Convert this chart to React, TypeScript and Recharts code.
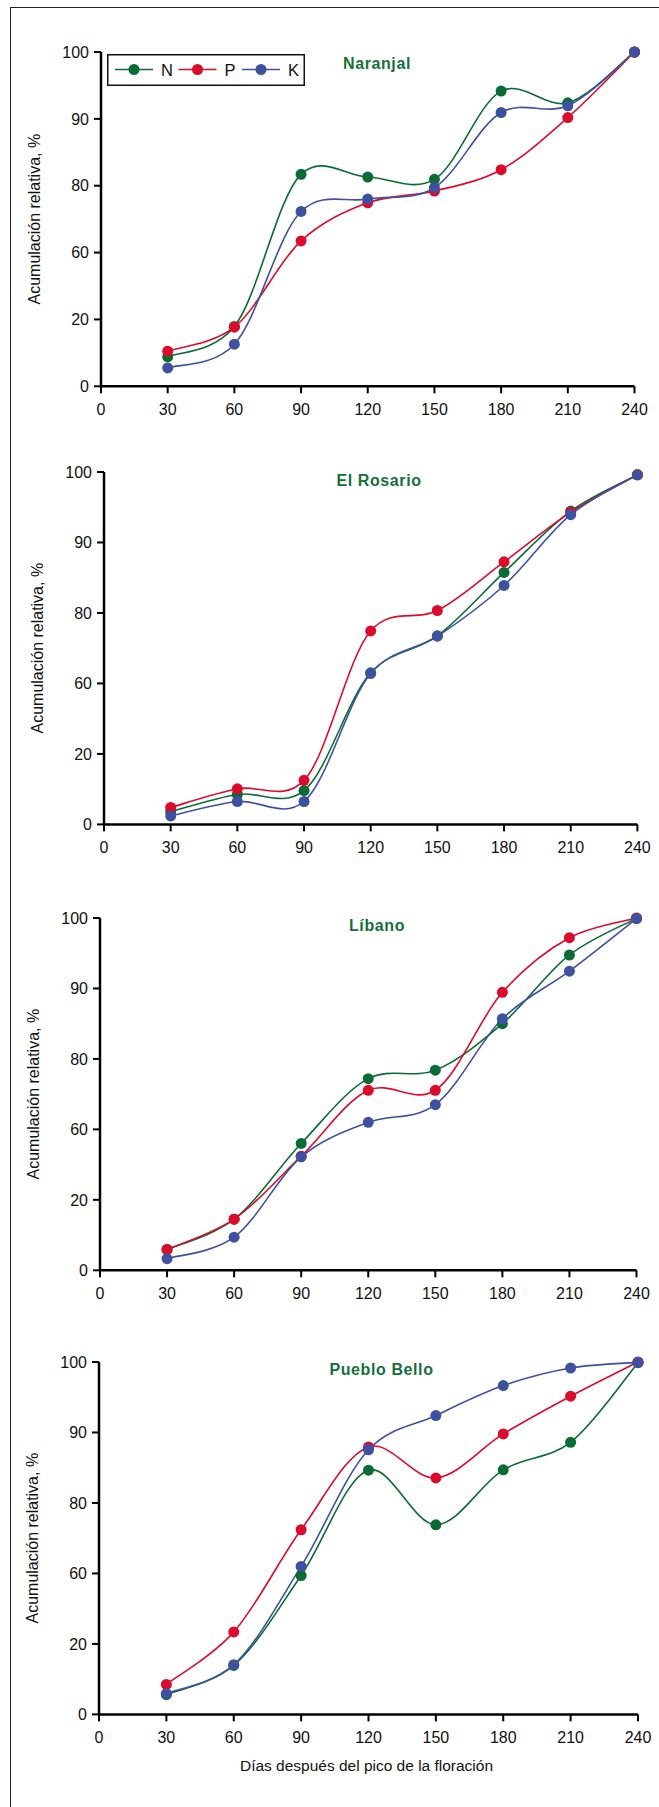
import React from 'react';
import { LineChart, Line, XAxis, YAxis, Legend } from 'recharts';

// ---------- data ----------
const days = [30, 60, 90, 120, 150, 180, 210, 240];
const xTicks = [0, 30, 60, 90, 120, 150, 180, 210, 240];
// the y axis is evenly spaced but labelled 0,20,60,80,90,100
const yTickPositions = [0, 20, 40, 60, 80, 100];
const yTickLabels = ['0', '20', '60', '80', '90', '100'];

const seriesNames = ['N', 'P', 'K'];
const seriesColors = ['#0b6b35', '#dc0b2c', '#3e51a1'];

const titles = ['Naranjal', 'El Rosario', 'Líbano', 'Pueblo Bello'];

const naranjalN = [8.8, 17.9, 63.4, 62.6, 61.9, 88.3, 84.8, 100];
const naranjalP = [10.5, 17.7, 43.5, 54.9, 58.4, 64.8, 80.4, 100];
const naranjalK = [5.5, 12.6, 52.3, 56.0, 59.4, 81.9, 83.9, 100];

const rosarioN = [3.6, 8.5, 9.6, 43.0, 53.5, 71.5, 88.9, 99.2];
const rosarioP = [4.8, 10.1, 12.5, 54.9, 60.7, 74.5, 88.6, 99.2];
const rosarioK = [2.4, 6.5, 6.5, 42.8, 53.4, 67.8, 87.9, 99.2];

const libanoN = [5.9, 14.5, 36.0, 54.4, 56.8, 70.0, 89.5, 99.9];
const libanoP = [5.9, 14.5, 32.4, 51.1, 51.1, 78.9, 94.4, 100];
const libanoK = [3.3, 9.4, 32.2, 42.0, 47.0, 71.4, 84.9, 99.8];

const puebloN = [5.6, 13.9, 39.4, 69.3, 53.8, 69.4, 77.2, 99.8];
const puebloP = [8.5, 23.4, 52.4, 75.9, 67.1, 79.6, 90.3, 100];
const puebloK = [5.9, 14.1, 42.0, 75.1, 84.8, 93.3, 98.3, 99.9];

const panelSeries = [
  [naranjalN, naranjalP, naranjalK],
  [rosarioN, rosarioP, rosarioK],
  [libanoN, libanoP, libanoK],
  [puebloN, puebloP, puebloK],
];

// ---------- layout ----------
const FONT = '"Liberation Sans", Arial, Helvetica, sans-serif';
const W = 659;
const plots = [
  { top: 51.7, bottom: 386, left: 101, right: 634.5, titleX: 377, titleY: 64 },
  { top: 472.3, bottom: 824.7, left: 104, right: 637.4, titleX: 379, titleY: 481 },
  { top: 917.7, bottom: 1270, left: 100, right: 636.5, titleX: 377, titleY: 926 },
  { top: 1362.3, bottom: 1714.7, left: 99, right: 638, titleX: 381.5, titleY: 1370 },
];
const MT = 20;
const XH = 60;
const YW = 60;
const ALPHA = 0.15;

// Catmull-Rom smoothed-line curve factory
function smoothCurve(context: any) {
  let pts: [number, number][] = [];
  const dist = (a: [number, number], b: [number, number]) => Math.hypot(a[0] - b[0], a[1] - b[1]);
  return {
    areaStart() {},
    areaEnd() {},
    lineStart() {
      pts = [];
    },
    lineEnd() {
      const n = pts.length;
      if (!n) return;
      context.moveTo(pts[0][0], pts[0][1]);
      for (let i = 0; i < n - 1; i++) {
        const p0 = pts[i - 1];
        const p1 = pts[i];
        const p2 = pts[i + 1];
        const p3 = pts[i + 2];
        const l12 = Math.pow(dist(p1, p2), ALPHA);
        const l01 = p0 ? Math.pow(dist(p0, p1), ALPHA) : 0;
        const l23 = p3 ? Math.pow(dist(p2, p3), ALPHA) : 0;
        let c1x = p1[0], c1y = p1[1], c2x = p2[0], c2y = p2[1];
        if (p0 && l01 > 1e-9) {
          const a = 2 * l01 * l01 + 3 * l01 * l12 + l12 * l12;
          const nn = 3 * l01 * (l01 + l12);
          c1x = (p1[0] * a - p0[0] * l12 * l12 + p2[0] * l01 * l01) / nn;
          c1y = (p1[1] * a - p0[1] * l12 * l12 + p2[1] * l01 * l01) / nn;
        } else {
          c1x = p1[0] + (p2[0] - p1[0]) / 6;
          c1y = p1[1] + (p2[1] - p1[1]) / 6;
        }
        if (p3 && l23 > 1e-9) {
          const b = 2 * l23 * l23 + 3 * l23 * l12 + l12 * l12;
          const m = 3 * l23 * (l23 + l12);
          c2x = (p2[0] * b + p1[0] * l23 * l23 - p3[0] * l12 * l12) / m;
          c2y = (p2[1] * b + p1[1] * l23 * l23 - p3[1] * l12 * l12) / m;
        } else {
          c2x = p2[0] - (p2[0] - p1[0]) / 6;
          c2y = p2[1] - (p2[1] - p1[1]) / 6;
        }
        context.bezierCurveTo(c1x, c1y, c2x, c2y, p2[0], p2[1]);
      }
    },
    point(x: number, y: number) {
      pts.push([+x, +y]);
    },
  };
}

const YLabel = (props: any) => {
  const vb = props.viewBox || { x: 0, y: 0, width: 0, height: 0 };
  const cx = vb.x + vb.width - 66;
  const cy = vb.y + vb.height / 2;
  return (
    <text
      x={cx}
      y={cy}
      transform={`rotate(-90 ${cx} ${cy})`}
      textAnchor="middle"
      dominantBaseline="central"
      fontSize={16}
      fontFamily={FONT}
      fill="#111"
    >
      Acumulación relativa, %
    </text>
  );
};

const XLabel = (props: any) => {
  const vb = props.viewBox || { x: 0, y: 0, width: 0, height: 0 };
  const cx = vb.x + vb.width / 2 - 2;
  const cy = vb.y + 51;
  return (
    <text
      x={cx}
      y={cy}
      textAnchor="middle"
      dominantBaseline="central"
      fontSize={15.5}
      fontFamily={FONT}
      fill="#111"
    >
      Días después del pico de la floración
    </text>
  );
};

const LegendBox = () => (
  <svg width={198} height={32} style={{ display: 'block' }}>
    <rect x={0.75} y={0.75} width={196.5} height={30.5} fill="#fff" stroke="#111" strokeWidth={1.5} />
    {seriesNames.map((name, i) => {
      const x0 = 8 + i * 63.5;
      return (
        <g key={name}>
          <line x1={x0} y1={15.5} x2={x0 + 38} y2={15.5} stroke={seriesColors[i]} strokeWidth={1.5} />
          <circle cx={x0 + 19} cy={15.5} r={5.5} fill={seriesColors[i]} />
          <text x={x0 + 46} y={15.5} dominantBaseline="central" fontSize={16.5} fontFamily={FONT} fill="#111">
            {name}
          </text>
        </g>
      );
    })}
  </svg>
);

const Panel = ({ idx }: { idx: number }) => {
  const p = plots[idx];
  const chartTop = p.top - MT;
  const height = p.bottom - p.top + MT + XH;
  const data = days.map((d, i) => ({
    day: d,
    N: panelSeries[idx][0][i],
    P: panelSeries[idx][1][i],
    K: panelSeries[idx][2][i],
  }));
  return (
    <div style={{ position: 'absolute', left: 0, top: chartTop, width: W, height }}>
      <LineChart
        width={W}
        height={height}
        data={data}
        margin={{ top: MT, right: W - p.right, bottom: XH - 40, left: p.left - YW }}
      >
        <XAxis
          dataKey="day"
          type="number"
          domain={[0, 240]}
          ticks={xTicks}
          interval={0}
          height={40}
          tickSize={7}
          tickMargin={10}
          axisLine={{ stroke: '#000', strokeWidth: 2.5 }}
          tickLine={{ stroke: '#000', strokeWidth: 2 }}
          tick={{ fill: '#111', fontSize: 16, fontFamily: FONT }}
          label={idx === 3 ? <XLabel /> : undefined}
        />
        <YAxis
          type="number"
          domain={[0, 100]}
          ticks={yTickPositions}
          interval={0}
          width={YW}
          tickSize={7}
          tickMargin={5}
          tickFormatter={(v: number) => yTickLabels[yTickPositions.indexOf(v)] ?? ''}
          axisLine={{ stroke: '#000', strokeWidth: 2.5 }}
          tickLine={{ stroke: '#000', strokeWidth: 2 }}
          tick={{ fill: '#111', fontSize: 16, fontFamily: FONT }}
          label={<YLabel />}
        />
        {idx === 0 && (
          <Legend
            layout="horizontal"
            verticalAlign="middle"
            align="center"
            content={() => <LegendBox />}
            wrapperStyle={{ position: 'absolute', left: 107.3, top: 54 - chartTop, width: 198, height: 32 }}
          />
        )}
        {seriesNames.map((name, i) => (
          <Line
            key={name}
            dataKey={name}
            name={name}
            type={smoothCurve as any}
            stroke={seriesColors[i]}
            strokeWidth={1.6}
            dot={{ r: 5.5, fill: seriesColors[i], stroke: seriesColors[i], strokeWidth: 0 }}
            activeDot={false}
            isAnimationActive={false}
          />
        ))}
      </LineChart>
      <div
        style={{
          position: 'absolute',
          left: p.titleX,
          top: p.titleY - chartTop,
          transform: 'translate(-50%, -50%)',
          color: '#16703a',
          fontFamily: FONT,
          fontWeight: 'bold',
          fontSize: 16,
          letterSpacing: 0.6,
          whiteSpace: 'nowrap',
        }}
      >
        {titles[idx]}
      </div>
    </div>
  );
};

export default function App() {
  return (
    <div style={{ position: 'absolute', left: 0, top: 0, width: W, height: 1807, background: '#fff', overflow: 'hidden' }}>
      <div
        style={{
          position: 'absolute',
          left: 9.5,
          top: 6.5,
          width: W,
          height: 1807,
          borderTop: '1.5px solid #222',
          borderLeft: '1.5px solid #222',
        }}
      />
      {plots.map((_, i) => (
        <Panel key={i} idx={i} />
      ))}
    </div>
  );
}
